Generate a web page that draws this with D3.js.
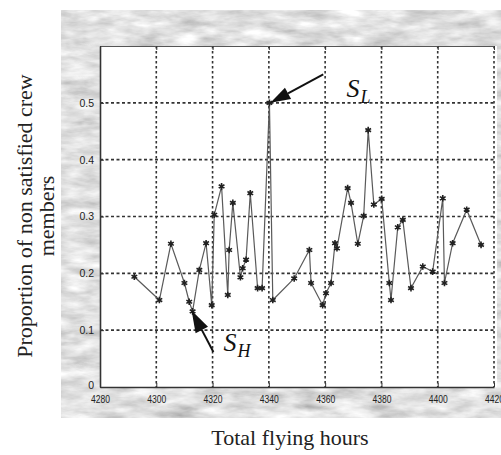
<!DOCTYPE html>
<html><head><meta charset="utf-8">
<script src="https://cdn.jsdelivr.net/npm/d3@7"></script>
<style>html,body{margin:0;padding:0;background:#fff;}svg{display:block;}</style>
</head><body>
<script>
// ---- data ----
const hours = [4292.2,4301.1,4305.2,4310.0,4311.7,4312.9,4315.3,4317.7,4319.7,4320.6,4323.2,4325.4,4325.9,4327.2,4329.9,4330.7,4331.9,4333.4,4336.0,4337.6,4340.2,4341.4,4349.0,4354.4,4355.0,4359.1,4360.3,4362.1,4363.5,4364.2,4368.0,4369.2,4371.6,4373.7,4375.3,4377.3,4380.1,4382.8,4383.4,4385.8,4387.6,4390.5,4394.7,4398.2,4401.8,4402.4,4405.3,4410.3,4415.4];
const proportion = [0.194,0.153,0.252,0.183,0.150,0.133,0.206,0.253,0.144,0.303,0.353,0.162,0.241,0.324,0.193,0.209,0.224,0.341,0.174,0.174,0.500,0.153,0.191,0.241,0.183,0.144,0.165,0.183,0.253,0.244,0.350,0.324,0.252,0.301,0.452,0.321,0.331,0.183,0.153,0.281,0.294,0.174,0.212,0.203,0.332,0.183,0.253,0.312,0.250];
const xTicks = [4280,4300,4320,4340,4360,4380,4400,4420];
const xTickLabels = ["4280","4300","4320","4340","4360","4380","4400","4420"];
const yTicks = [0,0.1,0.2,0.3,0.4,0.5];
const yTickLabels = ["0","0.1","0.2","0.3","0.4","0.5"];
const xDomain = [4280,4420];
const yDomain = [0,0.6];
const labelSL = {hour:4340.2, value:0.5};
const labelSH = {hour:4312.9, value:0.133};

const W=501,H=455;
const svg=d3.select("body").append("svg").attr("width",W).attr("height",H);
const defs=svg.append("defs");
const f=defs.append("filter").attr("id","tex").attr("x",0).attr("y",0).attr("width","100%").attr("height","100%");
f.append("feTurbulence").attr("type","fractalNoise").attr("baseFrequency","0.03 0.1").attr("numOctaves",4).attr("seed",7).attr("result","n");
f.append("feColorMatrix").attr("in","n").attr("type","matrix")
 .attr("values","0.55 0.55 0 0 0.2  0.55 0.55 0 0 0.2  0.55 0.55 0 0 0.2  0 0 0 0 1");

// figure background
svg.append("rect").attr("x",61).attr("y",10).attr("width",W-61).attr("height",408).attr("fill","#bdbdbd");
svg.append("rect").attr("x",61).attr("y",10).attr("width",W-61).attr("height",408).attr("filter","url(#tex)");

const x=d3.scaleLinear().domain(xDomain).range([100,494]);
const y=d3.scaleLinear().domain(yDomain).range([387,46]);

// plot area
svg.append("rect").attr("x",x(4280)).attr("y",y(0.6)).attr("width",x(4420)-x(4280)+3).attr("height",y(0)-y(0.6)).attr("fill","#fff");

// grid
const g=svg.append("g");
g.selectAll(".vg").data(xTicks.slice(1)).enter().append("line")
 .attr("x1",d=>x(d)).attr("x2",d=>x(d)).attr("y1",y(0.6)).attr("y2",y(0))
 .attr("stroke","#333").attr("stroke-width",1.6).attr("stroke-dasharray","2.5,2.5");
g.selectAll(".hg").data(yTicks.slice(1)).enter().append("line")
 .attr("x1",x(4280)).attr("x2",x(4420)).attr("y1",d=>y(d)).attr("y2",d=>y(d))
 .attr("stroke","#333").attr("stroke-width",1.6).attr("stroke-dasharray","3,2.5");

// axes
const xAxis=d3.axisBottom(x).tickValues(xTicks).tickFormat((d,i)=>xTickLabels[i]).tickSizeInner(-4).tickSizeOuter(0).tickPadding(7);
const ax=svg.append("g").attr("transform",`translate(0,${y(0)})`).call(xAxis);
ax.select(".domain").attr("stroke","#333").attr("stroke-width",1.4);
ax.selectAll("line").attr("stroke","#333");
ax.selectAll("text").attr("font-family","Liberation Sans, Arial").attr("font-size",10).attr("fill","#222").attr("dy","0.9em")
 .attr("textLength",19).attr("lengthAdjust","spacingAndGlyphs");

const xTop=d3.axisTop(x).tickValues(xTicks).tickFormat("").tickSizeInner(-4).tickSizeOuter(0);
const at=svg.append("g").attr("transform",`translate(0,${y(0.6)})`).call(xTop);
at.select(".domain").attr("stroke","#555").attr("stroke-width",1);
at.selectAll("line").attr("stroke","#333");

const yAxis=d3.axisLeft(y).tickValues(yTicks).tickFormat((d,i)=>yTickLabels[i]).tickSizeInner(-4).tickSizeOuter(0).tickPadding(6);
const ay=svg.append("g").attr("transform",`translate(${x(4280)},0)`).call(yAxis);
ay.select(".domain").attr("stroke","#333").attr("stroke-width",1.6);
ay.selectAll("line").attr("stroke","#333");
ay.selectAll("text").attr("font-family","Liberation Sans, Arial").attr("font-size",10.5).attr("fill","#222");
ay.selectAll(".tick").filter(d=>d===0).select("text").attr("dy","0.1em");

// data line
const pts=hours.map((h,i)=>[h,proportion[i]]);
svg.append("path").datum(pts).attr("fill","none").attr("stroke","#5a5a5a").attr("stroke-width",1.2)
 .attr("d",d3.line().x(d=>x(d[0])).y(d=>y(d[1])));
const sym=d3.symbol().type(d3.symbolAsterisk||d3.symbolCross).size(30);
svg.selectAll(".m").data(pts).enter().append("path")
 .attr("transform",d=>`translate(${x(d[0])},${y(d[1])})`)
 .attr("d",sym).attr("fill","none").attr("stroke","#222").attr("stroke-width",1.6);
svg.selectAll(".m2").data(pts).enter().append("circle")
 .attr("cx",d=>x(d[0])).attr("cy",d=>y(d[1])).attr("r",1.6).attr("fill","#222");

// annotations
function arrow(tx,ty,dx,dy,len,hl,hw){
  const L=Math.hypot(dx,dy),ux=dx/L,uy=dy/L,px=-uy,py=ux;
  const bx=tx+ux*hl,by=ty+uy*hl;
  svg.append("line").attr("x1",bx).attr("y1",by).attr("x2",tx+ux*len).attr("y2",ty+uy*len).attr("stroke","#111").attr("stroke-width",2);
  svg.append("path").attr("d",`M${tx},${ty}L${bx+px*hw/2},${by+py*hw/2}L${bx-px*hw/2},${by-py*hw/2}Z`).attr("fill","#111");
}
arrow(x(labelSL.hour)+1,y(labelSL.value),52,-28,60,20,13);
arrow(x(labelSH.hour)-1,y(labelSH.value)-1,22,42,47,22,14);

function sLabel(sx,sy,sub){
  const t=svg.append("text").attr("x",sx).attr("y",sy).attr("font-family","Liberation Serif, Times New Roman, serif").attr("font-style","italic").attr("fill","#111");
  t.append("tspan").attr("font-size",26).text("S");
  t.append("tspan").attr("font-size",18).attr("dy",6).attr("dx",1).text(sub);
}
sLabel(x(labelSL.hour)+77,y(labelSL.value)-6,"L");
sLabel(x(labelSH.hour)+31,y(labelSH.value)+40,"H");

// axis titles
svg.append("text").attr("x",290).attr("y",445).attr("text-anchor","middle")
 .attr("font-family","Liberation Serif, Times New Roman, serif").attr("font-size",22).attr("fill","#222").text("Total flying hours");
const yl=svg.append("text").attr("transform","translate(32,216) rotate(-90)").attr("text-anchor","middle")
 .attr("font-family","Liberation Serif, Times New Roman, serif").attr("font-size",22).attr("fill","#222");
yl.append("tspan").attr("x",0).attr("y",0).text("Proportion of non satisfied crew");
yl.append("tspan").attr("x",0).attr("y",22).text("members");
</script>
</body></html>
